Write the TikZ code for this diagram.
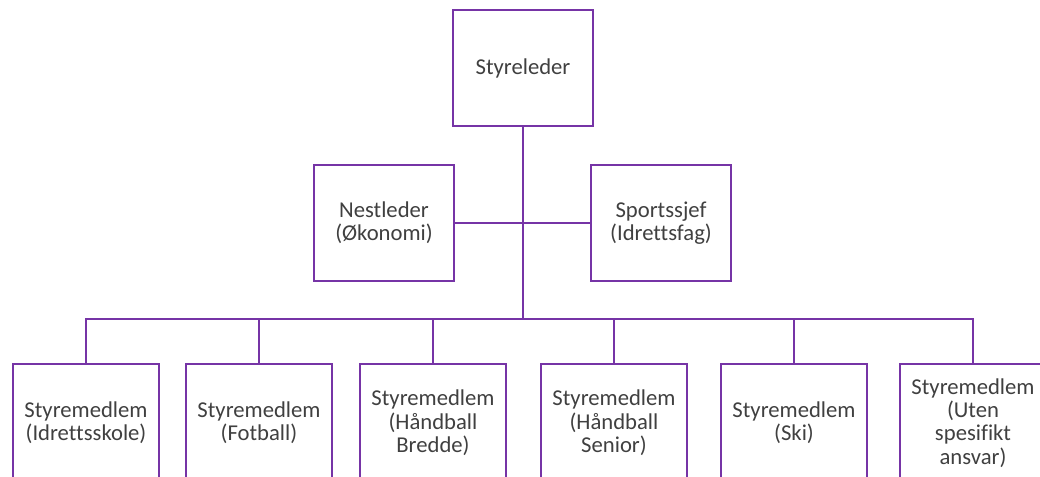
\documentclass[tikz,border=0pt]{standalone}
\usepackage{fontspec}
\setmainfont[Ligatures=NoCommon]{Carlito}
\definecolor{lilla}{RGB}{118,52,166}
\definecolor{tekst}{RGB}{64,64,64}
\begin{document}
\begin{tikzpicture}[y=-.75pt, x=.75pt, font=\fontsize{17}{17.5}\selectfont,
	boks/.style={draw=lilla, line width=1.5pt, fill=white, text=tekst, align=center,
		minimum width=105pt, minimum height=87pt, inner sep=2pt},
	medlem/.style={boks, minimum width=109pt, minimum height=88.5pt},
	linje/.style={draw=lilla, line width=1.5pt}]
	\clip (0,0) rectangle (1040,477);
	%top
	\node[boks] (leder) at (523,68) {Styreleder};
	\node[boks] (nestleder) at (384,223) {Nestleder\\(Økonomi)};
	\node[boks] (sportssjef) at (661,223) {Sportssjef\\(Idrettsfag)};
	%styremedlemmer
	\node[medlem] (m1) at (86,423) {Styremedlem\\(Idrettsskole)};
	\node[medlem] (m2) at (259,423) {Styremedlem\\(Fotball)};
	\node[medlem] (m3) at (433,423) {Styremedlem\\(Håndball\\Bredde)};
	\node[medlem] (m4) at (614,423) {Styremedlem\\(Håndball\\Senior)};
	\node[medlem] (m5) at (794,423) {Styremedlem\\(Ski)};
	\node[medlem] (m6) at (973,423) {Styremedlem\\(Uten\\spesifikt\\ansvar)};
	%lines
	\coordinate (buss) at (523,319);
	\draw[linje] (leder.south) -- (buss);
	\draw[linje] (nestleder.east) -- (sportssjef.west);
	\foreach \n in {m1,m2,m3,m4,m5,m6}
	\draw[linje] (\n.north) |- (buss);
\end{tikzpicture}
\end{document}
